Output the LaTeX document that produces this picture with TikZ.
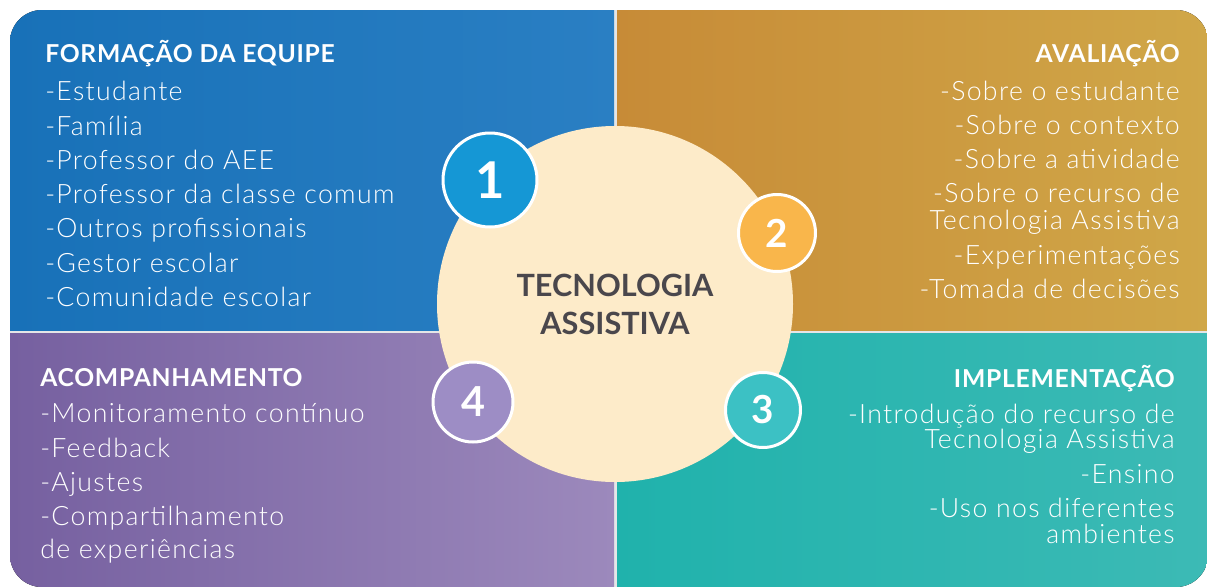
\documentclass[tikz,border=0pt]{standalone}
\usepackage{fontspec}
\setmainfont{Lato}
\newfontfamily\leve{Lato Light}[LetterSpace=5]
\usepackage{xcolor}
\definecolor{azulEsc}{RGB}{24,113,184}
\definecolor{azulCla}{RGB}{42,127,195}
\definecolor{ouroEsc}{RGB}{199,139,55}
\definecolor{ouroCla}{RGB}{208,167,72}
\definecolor{roxoEsc}{RGB}{118,96,160}
\definecolor{roxoCla}{RGB}{156,137,188}
\definecolor{verdeEsc}{RGB}{32,178,172}
\definecolor{verdeCla}{RGB}{60,186,181}
\definecolor{azulNum}{RGB}{21,151,213}
\definecolor{ouroNum}{RGB}{249,182,75}
\definecolor{verdeNum}{RGB}{60,193,196}
\definecolor{roxoNum}{RGB}{157,141,197}
\definecolor{creme}{RGB}{253,235,201}
\definecolor{grafite}{RGB}{74,71,76}
\definecolor{divisor}{RGB}{228,230,232}
\usetikzlibrary{positioning}
\tikzstyle{titulo}=[text=white, inner sep=0pt,
                    font=\bfseries\addfontfeatures{LetterSpace=3}\fontsize{18.5}{22}\selectfont]
\tikzstyle{item}  =[text=white, inner sep=0pt,
                    font=\leve\fontsize{20}{24}\selectfont]
\tikzstyle{numero}=[circle, draw=white, line width=2.25pt,
                    inner sep=0pt, text=white]
\tikzstyle{centro}=[circle, fill=creme, minimum size=267pt,
                    inner sep=0pt, text=grafite, align=center,
                    font=\bfseries\fontsize{23}{28.5}\selectfont]

\begin{document}
\begin{tikzpicture}[x=0.75pt,y=-0.75pt]
    \useasboundingbox (0,0) rectangle (1207,586);

    % quadrantes
    \begin{scope}
        \clip[rounded corners=24pt] (10,10) rectangle (1208,587);
        \fill[divisor] (10,10) rectangle (1208,587);
        \fill[left color=azulEsc, right color=azulCla] (10,10) rectangle (614,330);
        \fill[left color=ouroEsc, right color=ouroCla] (617,10) rectangle (1208,330);
        \fill[left color=roxoEsc, right color=roxoCla] (10,333) rectangle (614,587);
        \fill[left color=verdeEsc, right color=verdeCla] (617,333) rectangle (1208,587);
    \end{scope}

    \node[centro] (ta) at (615,304) {TECNOLOGIA\\ASSISTIVA};

    \node[numero, fill=azulNum, minimum size=70.5pt,
          font=\bfseries\fontsize{38}{38}\selectfont] (n1) at (490,180) {1};
    \node[numero, fill=ouroNum, minimum size=57.75pt,
          font=\bfseries\fontsize{29}{29}\selectfont] (n2) at (777,233) {2};
    \node[numero, fill=verdeNum, minimum size=56.25pt,
          font=\bfseries\fontsize{29}{29}\selectfont] (n3) at (763,410) {3};
    \node[numero, fill=roxoNum, minimum size=60pt,
          font=\bfseries\fontsize{31}{31}\selectfont] (n4) at (473,402) {4};

    % formacao da equipe
    \node[titulo, anchor=base west] (fe) at (45,62) {FORMAÇÃO DA EQUIPE};
    \foreach \y/\txt [count=\k] in {100/-Estudante, 135/-Família,
            169/-Professor do AEE, 203/-Professor da classe comum,
            237/-Outros profissionais, 272/-Gestor escolar,
            306/-Comunidade escolar}
        \node[item, anchor=base west] (fe\k) at (45,\y) {\txt};

    % avaliacao
    \node[titulo, anchor=base east] (av) at (1180,62) {AVALIAÇÃO};
    \foreach \y/\txt [count=\k] in {100/-Sobre o estudante,
            134/-Sobre o contexto, 168/-Sobre a atividade,
            202/-Sobre o recurso de, 229/Tecnologia Assistiva,
            264/-Experimentações, 298/-Tomada de decisões}
        \node[item, anchor=base east] (av\k) at (1180,\y) {\txt};

    % implementacao
    \node[titulo, anchor=base east] (im) at (1175,387) {IMPLEMENTAÇÃO};
    \foreach \y/\txt [count=\k] in {423/-Introdução do recurso de,
            448/Tecnologia Assistiva, 483/-Ensino,
            517/-Uso nos diferentes, 543/ambientes}
        \node[item, anchor=base east] (im\k) at (1175,\y) {\txt};

    % acompanhamento
    \node[titulo, anchor=base west] (ac) at (40,386) {ACOMPANHAMENTO};
    \foreach \y/\txt [count=\k] in {422/-Monitoramento contínuo,
            457/-Feedback, 491/-Ajustes, 525/-Compartilhamento,
            558/de experiências}
        \node[item, anchor=base west] (ac\k) at (40,\y) {\txt};

\end{tikzpicture}
\end{document}
